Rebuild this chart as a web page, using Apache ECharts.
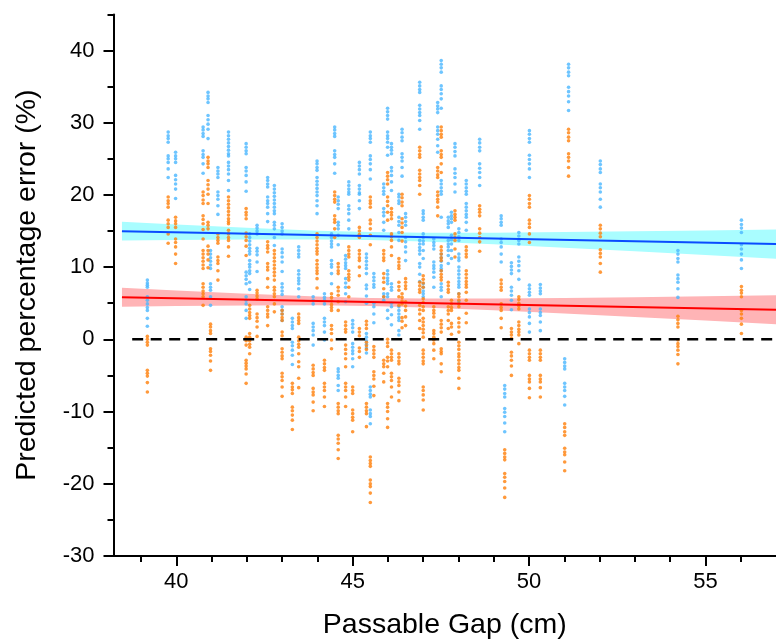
<!DOCTYPE html>
<html>
<head>
<meta charset="utf-8">
<script src="https://cdn.jsdelivr.net/npm/echarts@6/dist/echarts.min.js"></script>
<style>
html,body{margin:0;padding:0;background:#fff;}
#chart{width:776px;height:641px;}
</style>
</head>
<body>
<div id="chart"></div>
<script>
// ---- data ----
const xTickLabels = [40, 45, 50, 55];
const xMinorTicks = [39, 41, 42, 43, 44, 46, 47, 48, 49, 51, 52, 53, 54, 56];
const yTickLabels = [-30, -20, -10, 0, 10, 20, 30, 40];
const yMinorTicks = [-25, -15, -5, 5, 15, 25, 35, 45];

// columns: [passable gap, [predicted percentage errors]]
const blueCols = [
 [39.18,[8.2,7.8,7.5,7.2,5.9,5.4,4.9,4.4,4.0,2.9,1.8]],
 [39.77,[28.7,28.2,27.8,27.3,25.4,25.0,24.5,23.6,22.4]],
 [39.98,[25.9,25.4,25.0,24.5,22.7,22.1,21.5,20.8,19.5]],
 [40.76,[29.4,29.0,28.5,28.1,26.1,25.6,25.2,24.3,23.0]],
 [40.90,[34.2,33.7,33.3,32.8,31.0,30.4,29.8,29.1,27.8]],
 [40.97,[12.3,11.8,11.3,10.8,10.3,9.8,7.7,7.2,6.8,5.9,4.7]],
 [41.18,[23.8,23.3,22.9,22.4,20.4,19.9,19.4,18.5,17.3]],
 [41.48,[28.7,28.2,27.7,27.2,26.7,26.2,25.7,25.4,24.5,24.0,23.5,22.9,22.0,20.6]],
 [41.98,[27.1,26.6,26.1,25.7,23.8,23.3,22.7,21.8,20.5,9.3,8.8,8.3,7.7,5.9,5.4,4.9,4.0,2.9]],
 [42.08,[14.6,14.1,13.6,13.1,12.6,12.2,11.8,10.9,10.4,10.0,9.5,9.1,7.9,6.9]],
 [42.29,[15.8,15.4,15.0,14.6,12.6,12.2,11.7,10.7,9.4]],
 [42.59,[22.4,22.0,21.5,21.1,19.7,19.2,18.8,18.3,17.4,16.3]],
 [42.78,[21.3,20.8,20.3,19.8,19.3,18.8,18.3,17.8,17.4,16.2,15.8,15.3,14.1,13.0]],
 [43.00,[16.0,15.5,15.0,14.6,12.5,12.0,11.4,10.7,9.4,7.7,7.2,6.7,6.2,4.5,4.0,3.5,2.6]],
 [43.29,[2.9,2.4,1.9,1.5,-0.4,-0.9,-1.5,-2.2,-3.5]],
 [43.47,[12.8,12.3,11.8,11.4,9.5,9.0,8.5,8.1,7.7,7.0,5.9]],
 [43.88,[5.9,5.4,4.9,2.2,1.7,1.2,0.6,-0.8]],
 [43.99,[24.7,24.3,23.8,23.4,22.4,21.9,21.4,20.9,20.4,19.9,19.2,18.5,17.4]],
 [44.20,[6.3,5.8,5.4,4.9,2.9,2.4,1.9,1.0,-0.1]],
 [44.40,[14.6,14.1,13.6,13.2,12.8,10.9,10.4,10.0,9.1,7.7]],
 [44.49,[29.4,29.0,28.5,28.1,26.1,25.6,25.2,24.3,23.0]],
 [44.59,[19.7,19.2,18.7,18.1,16.2,15.8,15.3,14.4,13.1,-4.1,-4.5,-5.0,-5.4,-6.4,-7.1]],
 [44.80,[11.6,11.1,10.6,10.2,9.8,8.4,7.8,7.2,6.3,5.2]],
 [44.89,[21.8,21.3,20.8,20.4,20.1,18.5,18.0,17.4,16.5,15.3]],
 [45.00,[2.6,2.1,1.6,1.0,-0.6,-1.1,-1.6,-2.0,-2.7,-3.8]],
 [45.19,[24.5,24.0,23.5,22.9,21.3,20.8,20.3,20.1,19.2,18.1]],
 [45.39,[11.8,11.3,10.8,10.3,9.8,9.1,7.5,7.0,6.0,5.0,0.8,0.3,-0.2,-0.7,-1.2,-1.9]],
 [45.50,[28.7,28.2,27.8,27.3,25.4,24.9,24.3,23.5,22.2,-6.6,-7.1,-7.6,-8.0,-9.8,-10.3,-10.7,-11.7]],
 [45.60,[9.1,8.6,8.1,7.6,7.2,5.0,4.5,3.5,2.3]],
 [45.88,[21.5,21.0,20.5,20.1,18.1,17.6,17.1,16.2,15.1,6.3,5.9,5.4]],
 [45.99,[32.0,31.5,31.0,30.5,28.7,28.2,27.8,27.3,26.6,25.5,9.5,9.0,8.5,8.1,7.7,6.3,5.9,4.0,2.9]],
 [46.10,[27.1,26.6,26.2,25.7,23.8,23.3,22.7,21.8,20.6,7.7,7.2,6.8,5.0,4.5,3.4,2.0]],
 [46.31,[20.1,19.7,19.2,18.8,16.9,16.3,15.8,14.8,13.7,4.5,4.0,3.5,3.0,2.6,1.2,0.6]],
 [46.40,[29.1,28.6,28.0,27.5,25.7,25.2,24.7,23.8,22.6]],
 [46.50,[17.4,16.9,16.3,15.8,14.1,13.5,12.8,12.1,10.9]],
 [46.90,[35.6,35.1,34.6,34.2,32.4,31.9,31.4,31.0,30.3,29.1,13.7,13.2,12.7,12.3,11.8,10.5,10.0,9.0,8.0]],
 [47.00,[17.8,17.4,16.9,16.5,14.6,14.1,13.6,13.2,12.3,11.2,7.7,7.2,6.7,6.3,5.9]],
 [47.30,[13.9,13.4,13.0,12.5,10.7,10.2,9.8,9.3,8.6,7.2]],
 [47.41,[32.8,32.3,31.9,31.4,29.4,28.9,28.4,27.7,26.8,25.9]],
 [47.51,[38.6,38.1,37.6,37.0,35.1,34.6,34.0,33.3,32.0,22.0,21.5,21.0,20.5,20.1,16.9,11.8,11.3,10.8,10.2,9.8,9.5,7.7,7.2,6.8,5.9]],
 [47.71,[16.9,16.4,16.0,15.5,13.7,13.2,12.8,12.3,11.6,10.5]],
 [47.80,[17.6,17.1,16.7,16.2,14.4,13.8,13.2,12.3,11.2]],
 [47.90,[27.1,26.6,26.0,25.4,23.6,23.0,22.4,21.5,20.4]],
 [48.01,[15.3,14.8,14.2,13.7,11.8,11.3,10.9,10.0,9.5,9.0,8.5,8.0,7.6,7.2,6.3,5.2]],
 [48.22,[22.0,21.5,21.0,20.5,20.1,18.8,18.3,17.8,17.3,16.9,16.2,15.1]],
 [48.60,[27.7,27.2,26.6,26.1,24.3,23.7,23.1,22.4,21.3]],
 [49.21,[17.1,16.7,16.2,15.8,13.9,13.4,12.8,11.8,10.7]],
 [49.31,[-6.4,-6.9,-7.5,-8.0,-9.6,-10.1,-10.7,-11.6,-12.8]],
 [49.50,[10.6,10.1,9.6,9.1,7.2,6.7,6.1,5.4,4.1]],
 [49.71,[14.8,14.3,13.7,13.2,11.4,10.8,10.2,9.5,8.3]],
 [50.01,[28.9,28.4,27.8,27.3,25.5,24.9,24.3,23.6,22.4,7.5,7.0,6.5,6.1,4.2,3.7,3.1,2.2,1.0]],
 [50.32,[7.6,7.1,6.7,6.3,4.2,3.7,3.3,2.4,1.2]],
 [51.01,[-2.7,-3.2,-3.7,-4.1,-6.1,-6.6,-7.1,-7.9,-9.1]],
 [51.12,[38.1,37.6,37.0,36.5,34.9,34.3,33.7,32.9,31.7]],
 [52.02,[24.7,24.2,23.6,23.1,21.5,21.0,20.4,19.4,18.3]],
 [54.22,[12.3,11.8,11.2,10.7,8.9,8.4,7.9,7.0,5.8]],
 [56.02,[16.5,15.9,15.4,14.8,13.1,12.5,11.8,11.0,9.8]]
];

const orangeCols = [
 [39.18,[0.4,0.0,-0.4,-0.8,-4.3,-4.7,-5.1,-6.0,-7.3]],
 [39.77,[19.7,19.2,18.8,18.3,16.5,16.0,15.5,14.6,13.3]],
 [39.98,[16.9,16.4,16.0,15.5,13.9,13.4,12.8,11.8,10.5]],
 [40.76,[20.4,19.9,19.3,18.8,17.1,16.6,16.0,15.2,13.9,12.3,11.8,11.3,10.8,10.3,9.8,7.7,7.2,6.7,6.3,5.9,4.7]],
 [40.90,[25.2,24.7,24.3,23.8,22.0,21.4,20.8,20.1,18.8,16.2,15.8,15.3,12.9,12.3,11.8,11.0,9.9]],
 [40.97,[2.1,1.7,1.2,0.8,-1.3,-1.7,-2.2,-3.0,-4.3]],
 [41.18,[14.6,14.1,13.7,13.3,11.4,10.9,10.5,9.5,8.2]],
 [41.48,[19.7,19.2,18.7,18.2,17.7,17.2,16.7,16.3,16.0,15.1,14.6,14.1,13.7,12.8,11.5]],
 [41.98,[18.1,17.6,17.2,16.7,14.7,14.2,13.7,12.9,11.6,0.3,-0.2,-0.8,-2.9,-3.3,-3.7,-4.1,-4.8,-6.1]],
 [42.08,[4.7,4.2,3.7,3.3,2.9,0.8,0.3,-0.2,-0.7,-1.1,-2.0]],
 [42.29,[6.8,6.4,6.0,5.6,3.5,3.0,2.5,1.7,0.4]],
 [42.59,[13.5,13.0,12.6,12.1,10.5,10.0,9.6,8.4,7.2,4.5,4.0,3.5,3.1,1.9]],
 [42.78,[12.3,11.8,11.3,10.8,10.3,9.8,9.3,8.8,8.2,7.2,6.8,6.3,5.9,4.9,3.8]],
 [43.00,[4.0,3.5,3.0,2.6,1.0,0.5,-1.3,-1.8,-2.3,-2.7,-4.7,-5.2,-5.7,-6.6,-7.9]],
 [43.29,[-6.1,-6.6,-7.0,-7.5,-9.4,-9.9,-10.5,-11.2,-12.5]],
 [43.47,[3.5,3.0,2.6,2.2,0.3,-0.2,-0.7,-1.1,-2.0,-3.1,-3.8,-5.4,-6.7]],
 [43.88,[-3.6,-4.1,-4.6,-5.0,-6.8,-7.3,-7.7,-8.7,-9.9]],
 [43.99,[14.6,14.1,13.6,13.1,12.6,12.2,11.8,10.9,10.4,9.9,9.5,9.1,8.4,7.1]],
 [44.20,[-2.9,-3.4,-3.9,-4.3,-6.1,-6.6,-7.1,-8.0,-9.3]],
 [44.40,[6.3,5.8,5.3,4.8,4.4,4.0,1.9,1.4,0.8,-0.1,-1.3]],
 [44.49,[20.4,19.9,19.4,19.0,17.1,16.6,16.2,15.3,14.1]],
 [44.59,[10.5,10.0,9.5,9.1,7.2,6.7,6.1,5.2,4.0,-8.9,-9.4,-9.9,-10.3,-13.3,-13.8,-14.4,-15.3,-16.5]],
 [44.80,[2.4,1.9,1.4,1.0,-0.8,-1.4,-2.0,-2.7,-3.8,-6.1,-6.6,-7.1,-8.0,-9.3]],
 [44.89,[12.8,12.3,11.8,11.4,9.5,9.0,8.6,8.2,7.2,5.9]],
 [45.00,[-6.6,-7.1,-7.5,-9.8,-10.3,-10.8,-11.2,-12.8]],
 [45.19,[15.5,15.0,14.5,14.1,12.3,11.8,11.3,10.9,10.0,8.8,1.5,1.0,0.5,-1.2,-1.7,-2.5]],
 [45.39,[2.5,2.0,1.5,-0.4,-0.9,-1.4,-8.9,-9.4,-9.9,-10.3,-12.1]],
 [45.50,[19.7,19.2,18.8,18.3,16.5,16.0,15.3,14.4,13.1,-16.3,-16.8,-17.2,-17.6,-19.5,-20.0,-20.4,-21.3,-22.6]],
 [45.60,[-1.0,-1.5,-2.0,-2.5,-4.5,-5.0,-5.5,-6.5,-7.8]],
 [45.88,[12.3,11.8,11.3,10.9,9.1,8.5,7.9,7.0,5.9,-2.9,-3.4,-3.8,-4.7,-5.9]],
 [45.99,[23.1,22.6,22.1,21.5,19.7,19.1,18.5,17.6,16.5,0.0,-0.5,-1.0,-2.5,-3.0,-3.8,-8.9,-9.4,-10.0,-11.0,-12.2]],
 [46.10,[18.1,17.6,17.2,16.7,14.6,14.2,13.7,12.8,11.6,-1.5,-2.0,-2.5,-2.9,-4.7,-5.2,-5.7,-6.6,-8.0]],
 [46.31,[11.2,10.7,10.2,9.8,7.9,7.3,6.8,5.9,4.7,-2.0,-2.5,-3.0,-3.4,-5.4,-5.9,-6.4,-7.3,-8.5]],
 [46.40,[20.1,19.6,19.0,18.5,16.7,16.1,15.5,14.8,13.6,6.3,5.8,5.3,4.9,3.0,2.5,1.6]],
 [46.50,[8.4,7.9,7.4,7.0,5.2,4.6,4.0,3.1,1.9]],
 [46.90,[26.6,26.1,25.6,25.2,23.4,22.9,22.4,22.0,21.3,20.1,7.9,7.4,6.9,6.5,4.7,4.1,3.5,2.6,1.5]],
 [47.00,[8.8,8.3,7.8,7.2,5.6,5.1,4.5,4.0,2.9,2.4,1.9,1.4,0.9,0.3,-1.5,-2.0,-2.5,-3.0,-3.4,-6.6,-7.1,-7.7,-8.4,-9.8]],
 [47.30,[4.5,4.0,3.6,3.1,1.2,0.8,0.3,-0.1,-0.6,-1.5,-2.7]],
 [47.41,[23.8,23.3,22.8,22.4,20.4,19.9,19.4,19.0,18.3,17.1]],
 [47.51,[29.4,28.9,28.4,28.0,26.1,25.6,25.2,24.3,23.1,12.8,12.3,11.8,11.3,10.9,9.5,9.0,8.6,8.2,2.6,2.1,1.6,1.0,-1.3,-1.7,-2.0,-3.4,-4.5]],
 [47.71,[7.9,7.4,6.9,6.5,4.5,4.0,3.5,2.6,1.5]],
 [47.80,[5.4,4.9,4.4,4.0,2.2,1.7,0.7]],
 [47.90,[17.8,17.3,16.9,16.5,14.6,14.1,13.7,12.5,11.4]],
 [48.01,[6.3,5.9,5.4,4.9,4.5,2.9,2.3,1.7,1.0,-0.4,-0.9,-1.4,-2.0,-2.4,-2.9,-3.4,-3.9,-4.3,-5.4,-6.8]],
 [48.22,[12.8,12.3,11.8,11.4,9.5,9.0,8.5,8.0,7.6,7.2,6.5,5.4,3.6,2.3]],
 [48.60,[18.5,18.0,17.6,17.1,15.3,14.7,14.1,13.5,12.2]],
 [49.21,[8.2,7.7,7.2,6.8,4.9,4.4,4.0,2.9,1.6]],
 [49.31,[-15.3,-15.8,-16.3,-16.7,-18.6,-19.1,-19.7,-20.6,-21.9]],
 [49.50,[1.5,1.0,0.6,0.1,-1.8,-2.3,-2.9,-3.7,-5.0]],
 [49.71,[5.9,5.5,5.0,4.6,4.2,2.4,1.9,1.4,1.0,0.6,-0.6]],
 [50.01,[19.9,19.4,18.8,18.3,16.5,16.0,15.5,14.6,13.4,-1.5,-2.0,-2.5,-2.9,-5.0,-5.5,-5.9,-6.8,-8.1]],
 [50.32,[-1.5,-2.0,-2.5,-2.9,-5.0,-5.5,-5.9,-6.7,-8.0]],
 [51.01,[-11.7,-12.2,-12.8,-13.3,-15.1,-15.6,-16.0,-17.0,-18.2]],
 [51.12,[29.1,28.6,28.0,27.5,25.7,25.2,24.7,23.8,22.6]],
 [52.02,[15.8,15.3,14.7,14.2,12.4,11.9,11.4,10.5,9.3]],
 [54.22,[3.2,2.7,2.2,1.7,-0.1,-0.6,-1.0,-1.5,-2.1,-3.4]],
 [56.02,[7.3,6.8,6.4,5.9,4.0,3.5,2.9,2.1,0.8]]
];

// regression lines and confidence bands
const fitX = [38.46, 57];
const blueFit = [14.98, 13.19];
const redFit = [5.83, 4.09];
const bandX = [38.46, 40, 42, 44, 45.5, 47, 49, 51, 53, 55, 57];
const blueLower = [13.67, 13.75, 13.83, 13.83, 13.75, 13.54, 13.15, 12.69, 12.19, 11.69, 11.17];
const blueUpper = [16.29, 15.91, 15.45, 15.05, 14.85, 14.76, 14.77, 14.85, 14.95, 15.07, 15.21];
const redLower = [4.52, 4.60, 4.69, 4.70, 4.62, 4.42, 4.03, 3.57, 3.08, 2.59, 2.07];
const redUpper = [7.14, 6.76, 6.31, 5.92, 5.72, 5.64, 5.65, 5.73, 5.84, 5.97, 6.11];
const zeroLineX = [38.75, 57];

// ---- build ----
const FONT = "'Liberation Sans', Arial, sans-serif";
const X_MIN = 38.22, X_MAX = 57, Y_MIN = -30, Y_MAX = 45;
const toPts = cols => cols.flatMap(([x, ys]) => ys.map(y => [x, y]));

function bandSeries(lower, upper, color) {
  return {
    type: 'custom',
    z: 1,
    silent: true,
    clip: true,
    data: bandX.map((x, i) => [x, lower[i], upper[i]]),
    encode: { x: 0, y: [1, 2] },
    renderItem: function (params, api) {
      if (params.dataIndex !== 0) return;
      const pts = [];
      for (let i = 0; i < bandX.length; i++) pts.push(api.coord([bandX[i], upper[i]]));
      for (let i = bandX.length - 1; i >= 0; i--) pts.push(api.coord([bandX[i], lower[i]]));
      return { type: 'polygon', shape: { points: pts }, style: { fill: color } };
    }
  };
}

const chart = echarts.init(document.getElementById('chart'), null, { renderer: 'canvas' });
const axisLineStyle = { color: '#000', width: 2 };

chart.setOption({
  animation: false,
  backgroundColor: '#fff',
  grid: { left: 113.5, right: 0, top: 14.4, bottom: 85.1, containLabel: false, outerBoundsMode: 'none' },
  xAxis: [
    {
      type: 'value', min: X_MIN, max: X_MAX, position: 'bottom',
      axisLine: { show: true, onZero: false, lineStyle: axisLineStyle },
      axisTick: { show: true, customValues: xTickLabels, length: 10, lineStyle: { color: '#000', width: 2 } },
      axisLabel: { customValues: xTickLabels, fontSize: 22, color: '#000', margin: 15, fontFamily: FONT },
      splitLine: { show: false },
      name: 'Passable Gap (cm)', nameLocation: 'middle', nameGap: 55,
      nameTextStyle: { fontSize: 28.5, color: '#000', fontFamily: FONT }
    },
    {
      type: 'value', min: X_MIN, max: X_MAX, position: 'bottom',
      axisLine: { show: false, onZero: false },
      axisTick: { show: true, customValues: xMinorTicks, length: 6, lineStyle: { color: '#000', width: 2 } },
      axisLabel: { show: false },
      splitLine: { show: false }
    }
  ],
  yAxis: [
    {
      type: 'value', min: Y_MIN, max: Y_MAX, position: 'left',
      axisLine: { show: true, onZero: false, lineStyle: axisLineStyle },
      axisTick: { show: true, customValues: yTickLabels, length: 10, lineStyle: { color: '#000', width: 2 } },
      axisLabel: { customValues: yTickLabels, fontSize: 22, color: '#000', margin: 19, fontFamily: FONT },
      splitLine: { show: false },
      name: 'Predicted percentage error (%)', nameLocation: 'middle', nameGap: 72,
      nameTextStyle: { fontSize: 28.5, color: '#000', fontFamily: FONT }
    },
    {
      type: 'value', min: Y_MIN, max: Y_MAX, position: 'left',
      axisLine: { show: false, onZero: false },
      axisTick: { show: true, customValues: yMinorTicks, length: 6, lineStyle: { color: '#000', width: 2 } },
      axisLabel: { show: false },
      splitLine: { show: false }
    }
  ],
  series: [
    bandSeries(blueLower, blueUpper, '#a9fdff'),
    bandSeries(redLower, redUpper, '#ffb4b6'),
    {
      type: 'scatter', z: 2, symbol: 'circle', symbolSize: 3.6,
      itemStyle: { color: '#4ab7ff' },
      data: toPts(blueCols)
    },
    {
      type: 'scatter', z: 2, symbol: 'circle', symbolSize: 3.6,
      itemStyle: { color: '#ff7f0a' },
      data: toPts(orangeCols)
    },
    {
      type: 'line', z: 3, symbol: 'none', silent: true,
      lineStyle: { color: '#000', width: 2.5, type: [11, 7.5] },
      data: zeroLineX.map(x => [x, 0])
    },
    {
      type: 'line', z: 4, symbol: 'none', silent: true,
      lineStyle: { color: '#0a4bff', width: 2 },
      data: fitX.map((x, i) => [x, blueFit[i]])
    },
    {
      type: 'line', z: 4, symbol: 'none', silent: true,
      lineStyle: { color: '#ff0000', width: 2 },
      data: fitX.map((x, i) => [x, redFit[i]])
    }
  ]
});
</script>
</body>
</html>
